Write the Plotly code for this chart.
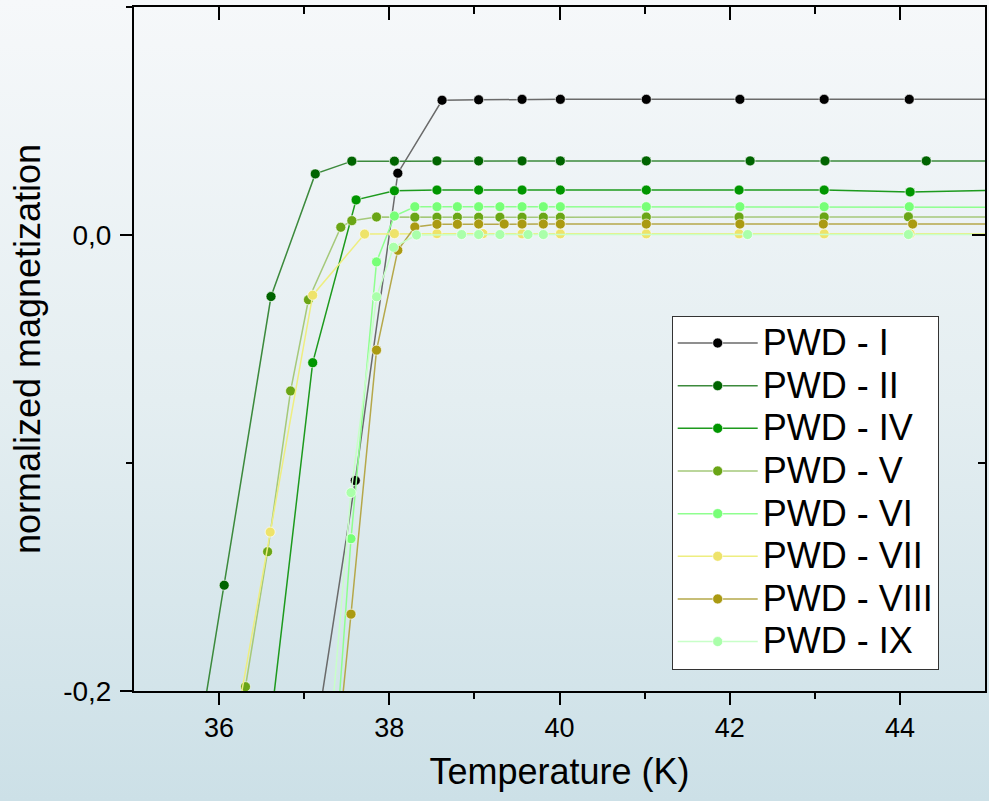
import base64
import plotly.graph_objects as go

# ---------------- data ----------------
names = ["PWD - I", "PWD - II", "PWD - IV", "PWD - V", "PWD - VI", "PWD - VII", "PWD - VIII", "PWD - IX"]

t_I = [37.04, 37.60, 38.10, 38.62, 39.05, 39.56, 40.01, 41.02, 42.12, 43.11, 44.11, 45.3]
m_I = [-0.243, -0.1077, 0.0271, 0.0591, 0.0593, 0.0595, 0.0595, 0.0595, 0.0595, 0.0595, 0.0595, 0.0595]

t_II = [35.55, 36.06, 36.61, 37.13, 37.56, 38.06, 38.56, 39.05, 39.56, 40.01, 41.02, 42.24, 43.12, 44.31, 45.3]
m_II = [-0.27, -0.1536, -0.027, 0.0268, 0.0324, 0.0324, 0.0325, 0.0325, 0.0325, 0.0325, 0.0325, 0.0325, 0.0325, 0.0325, 0.0325]

t_IV = [36.55, 37.10, 37.61, 38.06, 38.56, 39.05, 39.56, 40.01, 41.02, 42.11, 43.11, 44.12, 45.3]
m_IV = [-0.232, -0.056, 0.0154, 0.0194, 0.0197, 0.0197, 0.0197, 0.0197, 0.0197, 0.0197, 0.0197, 0.0189, 0.0197]

t_V = [36.31, 36.57, 36.84, 37.05, 37.43, 37.56, 37.85, 38.30, 38.56, 38.80, 39.05, 39.30, 39.56, 39.81, 40.01, 41.02, 42.11, 43.11, 44.10, 45.3]
m_V = [-0.1981, -0.1389, -0.0684, -0.0284, 0.0034, 0.0063, 0.0079, 0.0078, 0.0078, 0.0078, 0.0078, 0.0078, 0.0078, 0.0078, 0.0078, 0.0079, 0.0079, 0.0079, 0.0080, 0.0079]

t_VI = [37.36, 37.55, 37.85, 38.06, 38.30, 38.56, 38.80, 39.05, 39.30, 39.56, 39.81, 40.01, 41.02, 42.12, 43.11, 44.11, 45.3]
m_VI = [-0.23, -0.1332, -0.0118, 0.0083, 0.0124, 0.0124, 0.0124, 0.0124, 0.0124, 0.0124, 0.0124, 0.0124, 0.0124, 0.0124, 0.0124, 0.0124, 0.0122]

t_VII = [36.10, 36.60, 37.10, 37.71, 38.06, 38.56, 39.10, 39.56, 40.01, 41.02, 42.11, 43.11, 44.12, 45.3]
m_VII = [-0.235, -0.1303, -0.0264, 0.0004, 0.0006, 0.0006, 0.0006, 0.0005, 0.0005, 0.0005, 0.0005, 0.0005, 0.0005, 0.0005]

t_VIII = [37.40, 37.55, 37.85, 38.10, 38.30, 38.56, 38.80, 39.05, 39.35, 39.56, 39.81, 40.01, 41.02, 42.12, 43.10, 44.15, 45.3]
m_VIII = [-0.222, -0.1663, -0.0505, -0.0067, 0.0035, 0.0047, 0.0047, 0.0048, 0.0048, 0.0048, 0.0048, 0.0048, 0.0048, 0.0048, 0.0048, 0.0048, 0.0048]

t_IX = [37.30, 37.55, 37.85, 38.05, 38.32, 38.85, 39.05, 39.30, 39.63, 39.81, 42.21, 44.10, 45.3]
m_IX = [-0.222, -0.113, -0.0271, -0.0054, 0.0, 0.0002, 0.0002, 0.0002, 0.0002, 0.0002, 0.0002, 0.0002, 0.0002]

temps = [t_I, t_II, t_IV, t_V, t_VI, t_VII, t_VIII, t_IX]
mags = [m_I, m_II, m_IV, m_V, m_VI, m_VII, m_VIII, m_IX]

marker_colors = ["#000000", "#006400", "#009600", "#6aa516", "#77ff77", "#eee36a", "#aa9a12", "#aaffaa"]
line_colors = ["#6a6a6a", "#3c8a3c", "#1d9a1d", "#a5c97a", "#8fff8f", "#eeee80", "#b5a84a", "#c8ffc8"]

x_tickvals = [36, 38, 40, 42, 44]
x_ticktext = ["36", "38", "40", "42", "44"]
x_minorvals = [37, 39, 41, 43]
y_tickvals = [-0.2, 0.0]
y_ticktext = ["-0,2", "0,0"]
y_minorvals = [-0.1, 0.1]

FONT = "Arial, Liberation Sans, sans-serif"

fig = go.Figure()
for name, t, m, mc, lc in zip(names, temps, mags, marker_colors, line_colors):
    fig.add_trace(go.Scatter(
        x=t, y=m, name='<span style="font-size:36px">' + name + '</span>', mode="lines+markers",
        line=dict(color=lc, width=1.5),
        marker=dict(color=mc, size=10, line=dict(color="rgba(255,255,255,0.8)", width=0.8)),
    ))

# invisible helper traces so that the extra tick axes are drawn
for xa, ya in (("x2", "y2"), ("x3", "y3"), ("x4", "y4")):
    fig.add_trace(go.Scatter(x=t_I, y=m_I, xaxis=xa, yaxis=ya, mode="lines",
                             line=dict(color="rgba(0,0,0,0)"), showlegend=False, hoverinfo="skip"))

# gradient background as svg image
svg = ('<svg xmlns="http://www.w3.org/2000/svg" width="989" height="801" preserveAspectRatio="none">'
       '<defs><linearGradient id="g" x1="0" y1="0" x2="0" y2="1">'
       '<stop offset="0" stop-color="#f6f8fa"/><stop offset="0.5" stop-color="#e4eef1"/>'
       '<stop offset="1" stop-color="#cce0e7"/></linearGradient></defs>'
       '<rect width="989" height="801" fill="url(#g)"/></svg>')
src = "data:image/svg+xml;base64," + base64.b64encode(svg.encode()).decode()

L, R, T, B = 134, 4, 7, 110
W, H = 989, 801
pw, ph = W - L - R, H - T - B

fig.add_layout_image(dict(source=src, xref="paper", yref="paper",
                          x=-L / pw, y=1 + T / ph, sizex=W / pw, sizey=H / ph,
                          xanchor="left", yanchor="top", sizing="stretch", layer="below"))

axis_common = dict(showline=True, linecolor="black", linewidth=2, showgrid=False, zeroline=False,
                   tickcolor="black", tickwidth=2, automargin=False)

fig.update_layout(
    width=W, height=H,
    margin=dict(l=L, r=R, t=T, b=B),
    paper_bgcolor="#e4eef1",
    plot_bgcolor="rgba(0,0,0,0)",
    font=dict(family=FONT, color="black"),
    showlegend=True,
    legend=dict(x=(671.7 - L) / pw, y=(H - B - 315.7) / ph, xanchor="left", yanchor="top",
                bgcolor="white", bordercolor="#333333", borderwidth=1,
                font=dict(size=30.5, family=FONT), itemwidth=80, tracegroupgap=0),
    xaxis=dict(range=[35, 45], tickvals=x_tickvals, ticktext=x_ticktext, ticks="outside", ticklen=12,
               mirror=True,
               tickfont=dict(size=27), title=dict(text="Temperature (K)", font=dict(size=36), standoff=16),
               **axis_common),
    yaxis=dict(range=[-0.2, 0.1], tickvals=y_tickvals, ticktext=y_ticktext, ticks="outside", ticklen=12,
               mirror=True, ticklabelstandoff=3,
               tickfont=dict(size=28), title=dict(text="normalized magnetization", font=dict(size=36), standoff=12),
               **axis_common),
    # top / right mirrored major ticks (inside)
    xaxis2=dict(range=[35, 45], overlaying="x", side="top", anchor="y", tickvals=x_tickvals,
                showticklabels=False, ticks="inside", ticklen=13, **axis_common),
    yaxis2=dict(range=[-0.2, 0.1], overlaying="y", side="right", anchor="x", tickvals=y_tickvals,
                showticklabels=False, ticks="inside", ticklen=13, **axis_common),
    # top / right mirrored minor ticks (inside)
    xaxis3=dict(range=[35, 45], overlaying="x", side="top", anchor="y", tickvals=x_minorvals,
                showticklabels=False, ticks="inside", ticklen=7, **axis_common),
    yaxis3=dict(range=[-0.2, 0.1], overlaying="y", side="right", anchor="x", tickvals=y_minorvals,
                showticklabels=False, ticks="inside", ticklen=7, **axis_common),
    # bottom / left minor ticks (outside)
    xaxis4=dict(range=[35, 45], overlaying="x", side="bottom", anchor="y", tickvals=x_minorvals,
                showticklabels=False, ticks="outside", ticklen=6, **axis_common),
    yaxis4=dict(range=[-0.2, 0.1], overlaying="y", side="left", anchor="x", tickvals=y_minorvals,
                showticklabels=False, ticks="outside", ticklen=6, **axis_common),
)

fig.write_html("out.html", config={"displayModeBar": False},
               post_script="document.body.style.margin='0px';document.body.style.overflow='hidden';")
